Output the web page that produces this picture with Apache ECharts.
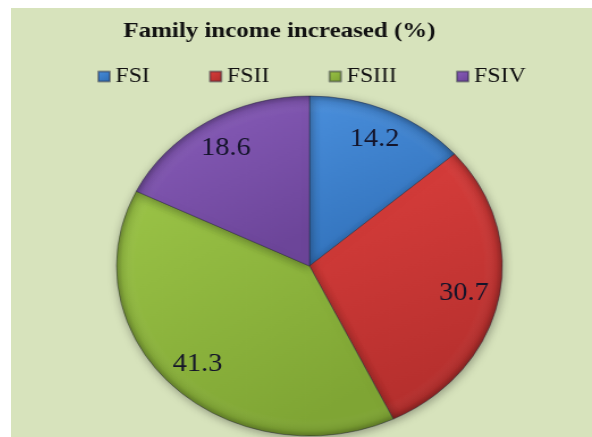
<!DOCTYPE html>
<html>
<head>
<meta charset="utf-8">
<script src="https://cdn.jsdelivr.net/npm/echarts@6/dist/echarts.min.js"></script>
<style>
  html, body { margin: 0; padding: 0; background: #ffffff; }
  #bg { position: absolute; left: 11px; top: 8px; width: 581px; height: 429px; background: #d7e3bc; overflow: hidden; }
  #chart { position: absolute; left: 0; top: 0; width: 512px; height: 429px; transform: scaleX(1.1348); transform-origin: 0 0; }
</style>
</head>
<body>
<div id="bg"><div id="chart"></div></div>
<script>
const titleText = 'Family income increased (%)';
const categories = ['FSI', 'FSII', 'FSIII', 'FSIV'];
const values = [14.2, 30.7, 41.3, 18.6];
const colors = ['#4a8fdc', '#dc3f3d', '#9bc447', '#8b5fbd'];
const darker = ['#2f6fb8', '#b22e2c', '#7fa534', '#6c4599'];

const chart = echarts.init(document.getElementById('chart'), null, { renderer: 'canvas' });

function grad(i) {
  return {
    type: 'linear', x: 0, y: 0, x2: 0.6, y2: 1,
    colorStops: [{ offset: 0, color: colors[i] }, { offset: 1, color: darker[i] }]
  };
}

const pieData = categories.map((c, i) => ({ name: c, value: values[i], itemStyle: { color: grad(i) } }));
const labelData = categories.map((c, i) => ({ name: c, value: values[i] }));

const center = [263, 258];
const R = 170;

chart.setOption({
  animation: false,
  title: {
    text: titleText,
    left: 99, top: 12,
    padding: 0,
    textStyle: { fontFamily: 'Liberation Serif', fontWeight: 'bold', fontSize: 22, color: '#111111' }
  },
  legend: {
    data: categories,
    left: 76, top: 58, padding: 0,
    itemWidth: 10, itemHeight: 10, itemGap: 52,
    icon: 'rect',
    textStyle: { fontFamily: 'Liberation Serif', fontSize: 21, color: '#111111' }
  },
  series: [
    {
      type: 'pie', center: center, radius: [0, R],
      startAngle: 90, clockwise: true,
      data: pieData,
      label: { show: false }, labelLine: { show: false },
      itemStyle: { borderColor: 'rgba(40,40,60,0.45)', borderWidth: 1, shadowBlur: 10, shadowColor: 'rgba(0,0,0,0.35)', shadowOffsetX: 1, shadowOffsetY: 2 },
      emphasis: { disabled: true }, silent: true
    },
    {
      type: 'pie', center: center, radius: [0, R],
      startAngle: 90, clockwise: true,
      data: [{ name: 'rim', value: 1 }],
      itemStyle: {
        color: {
          type: 'radial', x: 0.5, y: 0.5, r: 0.5,
          colorStops: [
            { offset: 0, color: 'rgba(255,255,255,0)' },
            { offset: 0.9, color: 'rgba(255,255,255,0)' },
            { offset: 0.97, color: 'rgba(0,0,0,0.08)' },
            { offset: 1, color: 'rgba(0,0,0,0.28)' }
          ]
        }
      },
      label: { show: false }, labelLine: { show: false },
      emphasis: { disabled: true }, silent: true
    },
    {
      type: 'pie', center: center, radius: [R * 0.6, R],
      startAngle: 90, clockwise: true,
      data: labelData,
      itemStyle: { color: 'rgba(0,0,0,0)' },
      label: { show: true, position: 'inside', formatter: '{c}', fontFamily: 'Liberation Serif', fontSize: 25, color: '#14142a' },
      labelLine: { show: false },
      emphasis: { disabled: true }, silent: true
    }
  ]
});
</script>
</body>
</html>
